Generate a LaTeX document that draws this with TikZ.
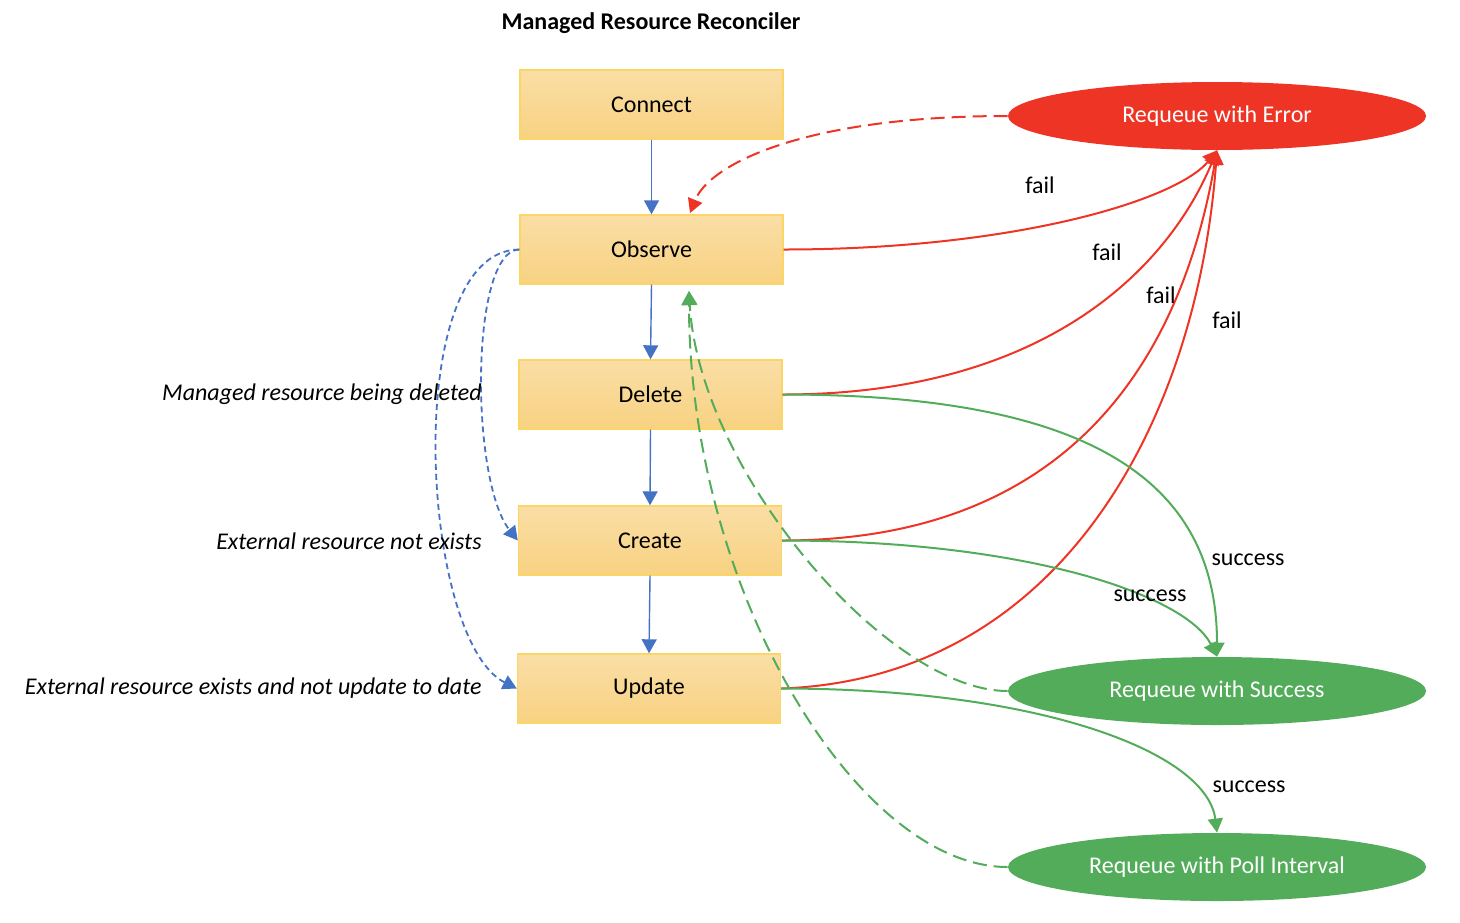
\documentclass[tikz,border=0pt]{standalone}
\usepackage{fontspec}
\setmainfont{Carlito}
\usetikzlibrary{arrows.meta,shapes.geometric,calc}
\definecolor{boxtop}{RGB}{250,222,166}
\definecolor{boxbot}{RGB}{248,210,130}
\definecolor{boxline}{RGB}{252,214,100}
\definecolor{myblue}{RGB}{68,114,196}
\definecolor{myred}{RGB}{238,52,36}
\definecolor{mygreen}{RGB}{82,172,90}
\begin{document}
\begin{tikzpicture}[x=0.5pt,y=-0.5pt,
  font=\fontsize{12pt}{14pt}\selectfont,
  stepbox/.style={rectangle, minimum width=131.5pt, minimum height=34.5pt, inner sep=0pt,
    draw=boxline, line width=0.7pt, top color=boxtop, bottom color=boxbot},
  endell/.style={ellipse, minimum width=209pt, minimum height=34pt, inner sep=0pt, text=white},
  tip/.style={-{Triangle[length=7pt,width=7.5pt]}},
  flow/.style={myblue, line width=0.7pt, tip},
  cond/.style={myblue, line width=0.9pt, dash pattern=on 3pt off 2pt, tip},
  failarr/.style={myred, line width=1pt, tip},
  okarr/.style={mygreen, line width=1pt, tip},
  backred/.style={myred, line width=1pt, dash pattern=on 7pt off 3.5pt, tip},
  backgreen/.style={mygreen, line width=1pt, dash pattern=on 7pt off 3.5pt, tip},
  lbl/.style={inner sep=1pt}]
\useasboundingbox (0,0) rectangle (1460,922);

\node[font=\fontsize{12pt}{14pt}\selectfont\bfseries] (title) at (651,23) {Managed Resource Reconciler};

\node[stepbox] (con) at (651.5,104.5) {Connect};
\node[stepbox] (obs) at (651.5,249.5) {Observe};
\node[stepbox] (del) at (650.5,394.5) {Delete};
\node[stepbox] (cre) at (650,540.5) {Create};
\node[stepbox] (upd) at (649,688.5) {Update};

\node[endell, fill=myred] (err) at (1217,116) {Requeue with Error};
\node[endell, fill=mygreen] (suc) at (1217,691) {Requeue with Success};
\node[endell, fill=mygreen] (pol) at (1217,867) {Requeue with Poll Interval};

\coordinate (obsred) at (690,213);
\coordinate (obsgreen) at (689,291);

% main flow
\draw[flow] (con.south) -- (obs.north);
\draw[flow] (obs.south) -- (del.north);
\draw[flow] (del.south) -- (cre.north);
\draw[flow] (cre.south) -- (upd.north);

% conditional branches
\draw[cond] (obs.west) .. controls (470,250) and (470,480) .. (cre.west);
\draw[cond] (obs.west) .. controls (400,250) and (420,640) .. (upd.west);

\node[lbl, anchor=east, font=\fontsize{12pt}{14pt}\selectfont\itshape] (l1) at (484,394) {Managed resource being deleted};
\node[lbl, anchor=east, font=\fontsize{12pt}{14pt}\selectfont\itshape] (l2) at (484,541) {External resource not exists};
\node[lbl, anchor=east, font=\fontsize{12pt}{14pt}\selectfont\itshape] (l3) at (484,688) {External resource exists and not update to date};

% fail edges
\draw[failarr] (obs.east) .. controls +(230,0) and +(-40,50) .. (err.south);
\draw[failarr] (del.east) .. controls +(260,0) and +(-50,120) .. (err.south);
\draw[failarr] (cre.east) .. controls +(270,0) and +(-40,230) .. (err.south);
\draw[failarr] (upd.east) .. controls +(280,-10) and +(-20,270) .. (err.south);

\node[lbl] (f1) at (1040,185) {fail};
\node[lbl] (f2) at (1107,252) {fail};
\node[lbl] (f3) at (1161,295) {fail};
\node[lbl] (f4) at (1227,320) {fail};

% success edges
\draw[okarr] (del.east) .. controls +(300,0) and +(0,-180) .. (suc.north);
\draw[okarr] (cre.east) .. controls +(250,0) and +(-30,-60) .. (suc.north);
\draw[okarr] (upd.east) .. controls +(260,0) and +(-10,-80) .. (pol.north);

\node[lbl] (s1) at (1248,560) {success};
\node[lbl] (s2) at (1150,596) {success};
\node[lbl] (s3) at (1249,787) {success};

% back edges
\draw[backred] (err.west) .. controls +(-200,0) and +(20,-50) .. (obsred);
\draw[backgreen] (suc.west) .. controls +(-120,0) and +(10,180) .. (obsgreen);
\draw[backgreen] (pol.west) .. controls +(-150,0) and +(0,300) .. (obsgreen);
\end{tikzpicture}
\end{document}
